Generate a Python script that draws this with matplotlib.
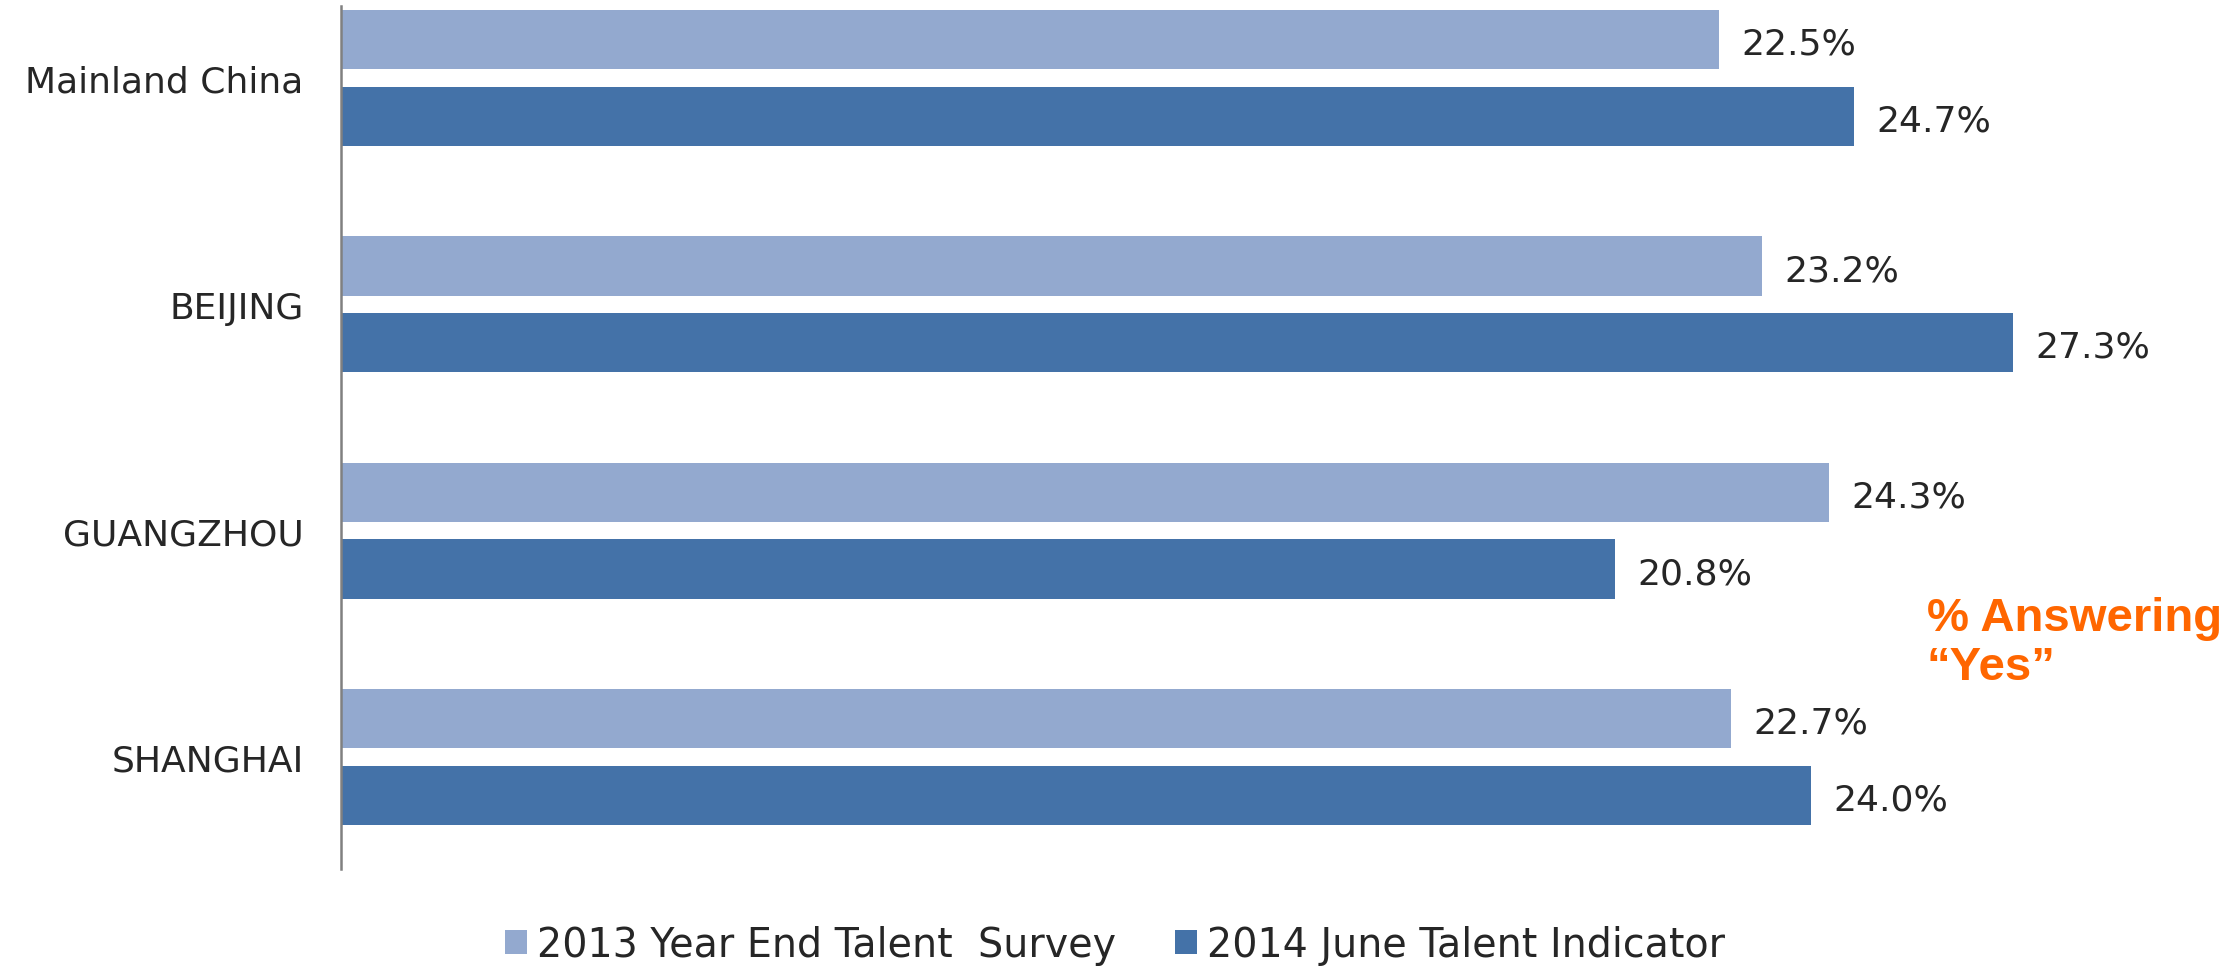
import matplotlib
matplotlib.use('Agg')
import matplotlib.pyplot as plt
from matplotlib.patches import Patch
import numpy as np

# Chart data
regions     = ['Mainland China', 'BEIJING', 'GUANGZHOU', 'SHANGHAI']
survey_2013 = [22.5, 23.2, 24.3, 22.7]
june_2014   = [24.7, 27.3, 20.8, 24.0]
series_names = ['2013 Year End Talent  Survey', '2014 June Talent Indicator']
note_lines  = ['% Answering', '\u201cYes\u201d']

light = '#93A9CF'
dark  = '#4472A8'
txt   = '#262626'

fig = plt.figure(figsize=(22.3, 9.7), dpi=100)
ax  = fig.add_axes([0.1529, 0.1031, 0.824, 0.8897])

y = np.arange(len(regions))
h = 0.262
off = 0.169
ax.barh(y - off, survey_2013, height=h, color=light, edgecolor='none')
ax.barh(y + off, june_2014, height=h, color=dark, edgecolor='none')

# value labels, a little right of and below the bar centre
for pos, vals in ((y - off, survey_2013), (y + off, june_2014)):
     for yy, v in zip(pos, vals):
          ax.annotate('{0:.1f}%'.format(v), (v, yy), xytext=(16, -3),
                      textcoords='offset points', va='center', ha='left',
                      fontsize=26, color=txt)

ax.set_xlim(0, 30)
ax.set_ylim(3.495, -0.318)
ax.set_yticks(y)
ax.set_yticklabels(regions, fontsize=26, color=txt)
ax.tick_params(axis='y', length=0, pad=27)
ax.set_xticks([])
for s in ('top', 'right', 'bottom'):
     ax.spines[s].set_visible(False)
ax.spines['left'].set_color('#808080')
ax.spines['left'].set_linewidth(1.8)

# legend at the bottom
handles = [Patch(facecolor=light, edgecolor='none'), Patch(facecolor=dark, edgecolor='none')]
fig.legend(handles, series_names, loc='center', bbox_to_anchor=(0.5, 0.0247),
           ncol=2, frameon=False, fontsize=28.5, handlelength=0.55, handleheight=0.55,
           handletextpad=0.25, columnspacing=1.5, labelcolor=txt)

# orange annotation
fig.text(0.864, 1 - 619/970, note_lines[0], color='#FF6600', fontsize=34, fontweight='bold',
         family=['Liberation Sans', 'DejaVu Sans'], va='center', ha='left')
fig.text(0.864, 1 - 668/970, note_lines[1], color='#FF6600', fontsize=34, fontweight='bold',
         family=['Liberation Sans', 'DejaVu Sans'], va='center', ha='left')

plt.savefig('out.png', dpi=100, facecolor='white')
